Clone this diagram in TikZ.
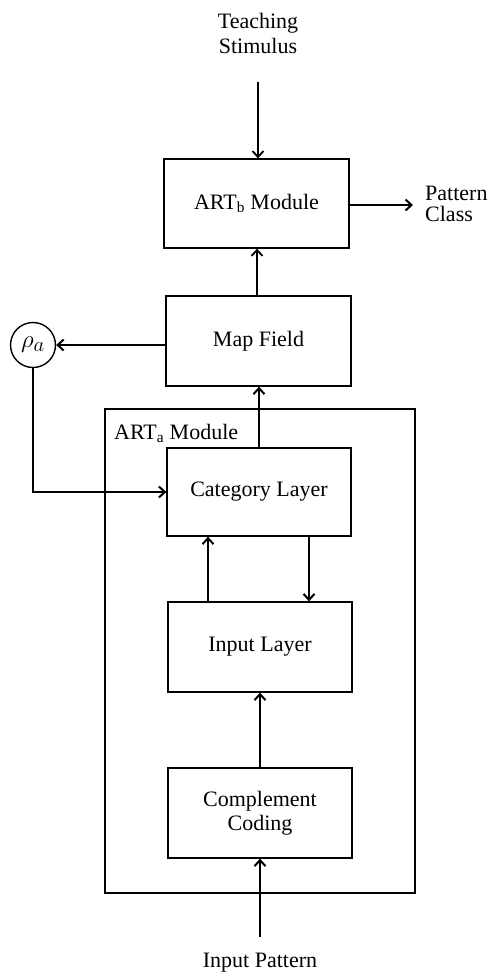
\documentclass[tikz,border=0pt]{standalone}
\usepackage{fontspec}
\setmainfont{Liberation Serif}
\usetikzlibrary{arrows.meta,calc}
\begin{document}
\begin{tikzpicture}[x=1pt,y=-1pt,
  font=\fontsize{22}{26}\selectfont,
  block/.style={draw,line width=1.3pt,rectangle,inner sep=0pt,align=center},
  flow/.style={line width=2pt,-{Straight Barb[length=6pt,width=11pt,line width=2pt]}},
  thinflow/.style={line width=1.4pt,-{Straight Barb[length=6pt,width=11pt,line width=1.8pt]}},
  caption/.style={align=center,inner sep=0pt}]
\useasboundingbox (0,0) rectangle (493,975);

% ART_a module frame
\draw[line width=1.2pt] (105,409) rectangle (415,893);
\node[anchor=west,inner sep=0pt] (artalabel) at (114,433) {ART\textsubscript{a} Module};

% blocks
\node[block,minimum width=185,minimum height=89] (artb) at (256.5,203.5) {ART\textsubscript{b} Module};
\node[block,minimum width=185,minimum height=90] (map)  at (258.5,341) {Map Field};
\node[block,minimum width=184,minimum height=88] (cat)  at (259,492) {Category Layer};
\node[block,minimum width=184,minimum height=90] (inp)  at (260,647) {Input Layer};
\node[block,minimum width=184,minimum height=90] (comp) at (260,813) {Complement\\[-2pt]Coding};

% vigilance parameter
\node[draw,circle,line width=1.4pt,minimum size=45,inner sep=0pt] (rho) at (33,345)
  {\fontsize{31}{31}\selectfont$\rho_a$};

% external labels
\node[caption] (teach) at (258,33) {Teaching\\[-1pt]Stimulus};
\node[caption,align=left,anchor=west] (pclass) at (425,204) {Pattern\\[-5pt]Class};
\node[caption] (ipat) at (260,963) {Input Pattern};

\coordinate (teachend) at (258,82);
\coordinate (classend) at (413,205);
\coordinate (ipatend) at (260,937);

% connectors
\draw[thinflow] (teachend) -- (teachend |- artb.north);
\draw[flow] (artb.east |- classend) -- (classend);
\draw[thinflow] ($(map.north)+(-1.5,0)$) -- ($(artb.south)+(0.5,0)$);
\draw[flow] (map.west |- rho.east) -- (rho.east);
\draw[flow] (rho.south) |- (cat.west);
\draw[flow] (cat.north) -- (map.south -| cat.north);
\draw[flow] (208,0 |- inp.north) -- (208,0 |- cat.south);
\draw[flow] (309,0 |- cat.south) -- (309,0 |- inp.north);
\draw[flow] (comp.north) -- (inp.south);
\draw[flow] (ipatend) -- (comp.south);
\end{tikzpicture}
\end{document}
